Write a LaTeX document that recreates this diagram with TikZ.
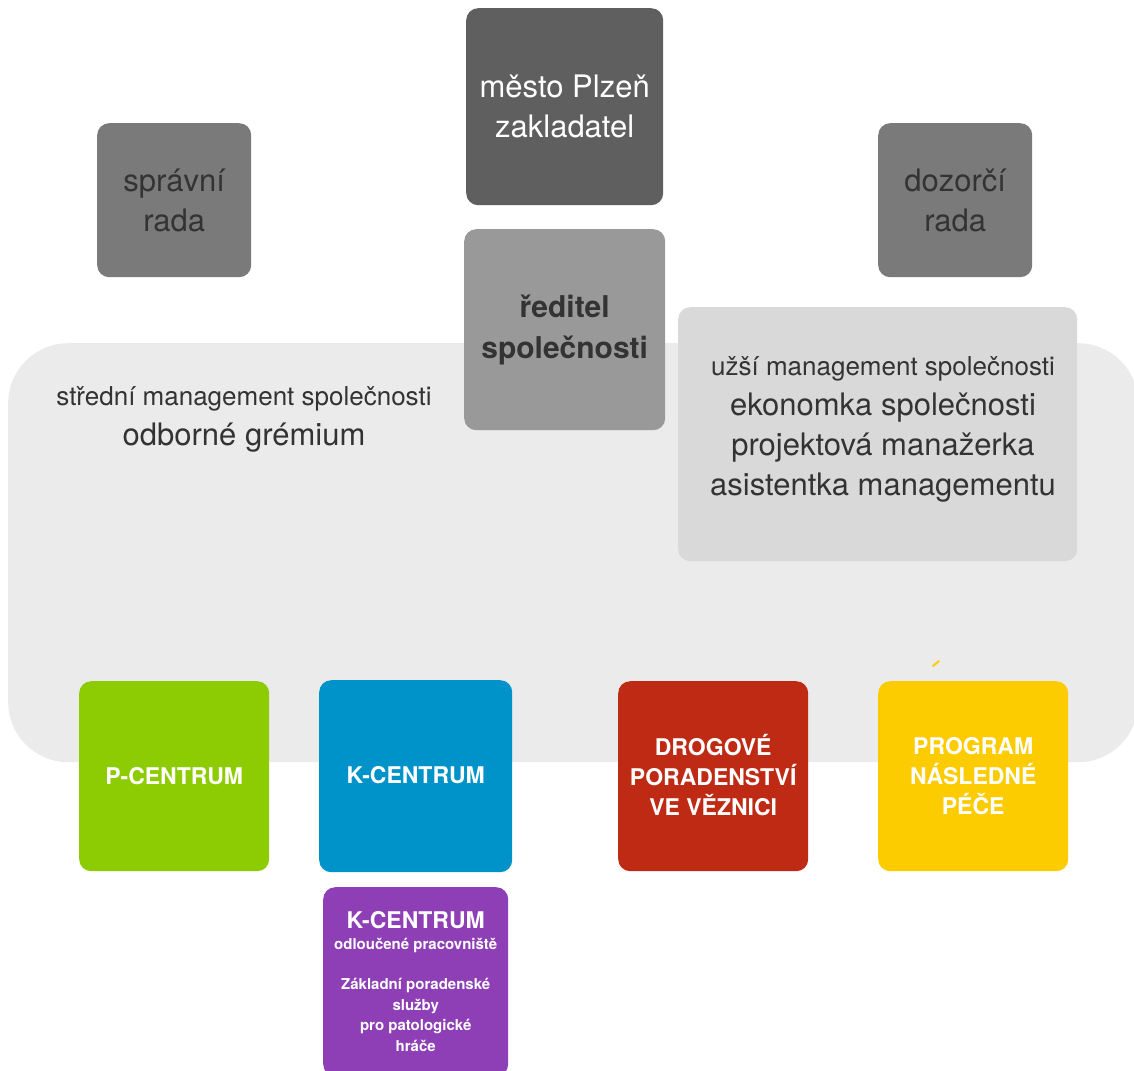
\documentclass[tikz,border=0pt]{standalone}
\usepackage{fontspec}
\setmainfont{TeX Gyre Heros}
\definecolor{gsprav}{HTML}{7A7A7A}
\definecolor{gzak}{HTML}{5F5F5F}
\definecolor{gred}{HTML}{9A9999}
\definecolor{gusz}{HTML}{D9D9D9}
\definecolor{gbg}{HTML}{EBEBEB}
\definecolor{gtext}{HTML}{333333}
\definecolor{cgreen}{HTML}{8DCB02}
\definecolor{cblue}{HTML}{0093CA}
\definecolor{cred}{HTML}{BF2A15}
\definecolor{cyellow}{HTML}{FCCB00}
\definecolor{cpurple}{HTML}{8E3FB6}
\tikzset{
  card/.style={rectangle, rounded corners=12pt, inner sep=0pt, anchor=north west, align=center},
  big/.style={font=\fontsize{31}{40}\selectfont},
  bigbold/.style={font=\bfseries\fontsize{30}{41}\selectfont},
  centre/.style={font=\bfseries\fontsize{23}{30}\selectfont, text=white},
  small/.style={font=\bfseries\fontsize{15}{20.5}\selectfont, text=white},
  sq/.style={minimum width=190pt, minimum height=190pt},
}
\begin{document}
\begin{tikzpicture}[x=1pt,y=-1pt]
\useasboundingbox (0,0) rectangle (1134,1070);
% background panel
\node[rectangle, rounded corners=60pt, fill=gbg, inner sep=0pt, anchor=north west,
      minimum width=1130pt, minimum height=419pt] (panel) at (8,343) {};
% top grey boxes
\node[card, fill=gsprav, minimum width=154pt, minimum height=154pt, big, text=gtext] (sprav) at (97,123) {správní\\rada};
\node[card, fill=gsprav, minimum width=154pt, minimum height=154pt, big, text=gtext] (dozor) at (878,123) {dozorčí\\rada};
\node[card, fill=gzak, minimum width=197pt, minimum height=197pt, big, text=white] (zak) at (466,8) {\raisebox{-2pt}{město Plzeň}\\\raisebox{-2pt}{zakladatel}};
\node[card, fill=gred, minimum width=201pt, minimum height=201pt, bigbold, text=gtext] (red) at (464,229) {ředitel\\společnosti};
% narrow management
\node[card, fill=gusz, minimum width=399pt, minimum height=254pt] (usz) at (678,307) {};
\node[align=center, big, text=gtext, anchor=center] (usztext) at (883,429)
  {{\fontsize{26}{38}\selectfont užší management společnosti}\\ekonomka společnosti\\projektová manažerka\\asistentka managementu};
% middle management text
\node[align=center, big, text=gtext, anchor=center] (stred) at (244,419)
  {{\fontsize{26}{38}\selectfont střední management společnosti}\\odborné grémium};
% centres
\node[card, sq, fill=cgreen, centre] (pc) at (79,681) {P-CENTRUM};
\node[card, fill=cblue, centre, minimum width=193pt, minimum height=192pt] (kc) at (319,680) {\raisebox{2pt}{K-CENTRUM}};
\node[card, sq, fill=cred, centre] (drog) at (618,681) {\raisebox{3pt}{DROGOVÉ}\\\raisebox{3pt}{PORADENSTVÍ}\\\raisebox{3pt}{VE VĚZNICI}};
\node[card, sq, fill=cyellow, centre] (prog) at (878,681) {PROGRAM\\NÁSLEDNÉ\\PÉČE};
\node[card, fill=cpurple, small, minimum width=185pt, minimum height=189pt] (kc2) at (323,887)
  {{\fontsize{23}{28}\selectfont K-CENTRUM}\\odloučené pracovniště\\[20pt]Základní poradenské\\služby\\pro patologické\\hráče};
% small yellow mark
\coordinate (m1) at (933,666);
\coordinate (m2) at (939,661);
\draw[cyellow, line width=2pt, line cap=round] (m1) -- (m2);
\end{tikzpicture}
\end{document}
